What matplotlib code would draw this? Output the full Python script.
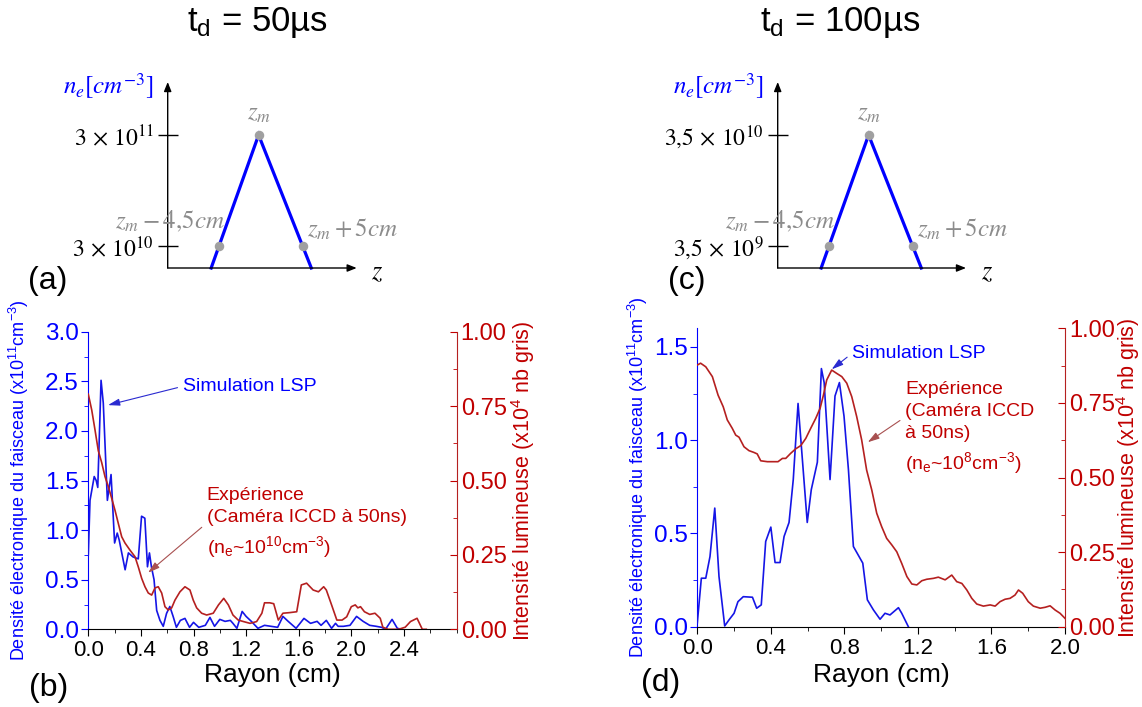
import numpy as np
import matplotlib
matplotlib.use('Agg')
import matplotlib.pyplot as plt
from matplotlib.ticker import MultipleLocator, FormatStrFormatter, NullLocator

plt.rcParams['font.family'] = ['Liberation Sans', 'DejaVu Sans']

W, H = 1142, 707

BLUE = '#0000ff'
LBLUE = '#1515e6'
RED = '#c00000'
LRED = '#b52020'
GREY = '#a0a0a0'

# ---- schematic profiles (log n_e vs z - z_m, in cm)
tri_z = [-4.5, 0.0, 5.0]
tri_ne_a = [3e10, 3e11, 3e10]
tri_ne_c = [3.5e9, 3.5e10, 3.5e9]
tick_lab_a = [r'$3\,\times\,10^{10}$', r'$3\,\times\,10^{11}$']
tick_lab_c = [r'$3{,}5\,\times\,10^{9}$', r'$3{,}5\,\times\,10^{10}$']

# ---- (b) t_d = 50 us : simulation LSP (x1e11 cm-3)
r_sim_b = [0.00, 0.013, 0.045, 0.06, 0.072, 0.097, 0.114, 0.145, 0.173, 0.20,
           0.22, 0.235, 0.28, 0.305, 0.34, 0.38, 0.405, 0.43, 0.45, 0.465,
           0.48, 0.50, 0.52, 0.545, 0.57, 0.595, 0.62, 0.645, 0.67, 0.70,
           0.735, 0.77, 0.80, 0.84, 0.89, 0.925, 0.96, 1.00, 1.04, 1.08,
           1.10, 1.13, 1.17, 1.20, 1.24, 1.29, 1.34, 1.39, 1.44, 1.48,
           1.52, 1.58, 1.64, 1.69, 1.74, 1.77, 1.81, 1.85, 1.88, 1.90,
           1.94, 1.99, 2.04, 2.09, 2.14, 2.19, 2.23, 2.26, 2.31, 2.35, 2.38]
n_sim_b = [0.75, 1.30, 1.54, 1.50, 1.43, 2.51, 2.28, 1.30, 1.56, 0.87,
           0.97, 0.90, 0.60, 0.77, 0.73, 0.71, 1.14, 1.12, 0.63, 0.77,
           0.63, 0.50, 0.19, 0.09, 0.03, 0.16, 0.23, 0.13, 0.02, 0.09,
           0.11, 0.02, 0.07, 0.02, 0.04, 0.12, 0.03, 0.10, 0.08, 0.09,
           0.06, 0.01, 0.18, 0.13, 0.08, 0.01, 0.04, 0.03, 0.02, 0.13,
           0.08, 0.01, 0.11, 0.06, 0.08, 0.04, 0.09, 0.01, 0.06, 0.03,
           0.03, 0.04, 0.13, 0.08, 0.04, 0.03, 0.02, 0.00, 0.10, 0.01, 0.00]
# ---- (b) experience, camera ICCD (x1e4 nb gris)
r_exp_b = [0.0, 0.026, 0.051, 0.076, 0.102, 0.127, 0.152, 0.178, 0.203, 0.228,
           0.254, 0.279, 0.317, 0.355, 0.38, 0.406, 0.431, 0.456, 0.482, 0.507,
           0.532, 0.558, 0.583, 0.608, 0.634, 0.659, 0.697, 0.735, 0.773, 0.798,
           0.824, 0.862, 0.90, 0.95, 0.99, 1.03, 1.065, 1.10, 1.14, 1.18,
           1.23, 1.28, 1.32, 1.34, 1.38, 1.41, 1.445, 1.48, 1.53, 1.585,
           1.62, 1.66, 1.71, 1.75, 1.79, 1.81, 1.85, 1.89, 1.93, 1.965,
           2.0, 2.03, 2.05, 2.07, 2.10, 2.14, 2.18, 2.22, 2.24, 2.28,
           2.36, 2.41, 2.45, 2.50, 2.54, 2.57]
i_exp_b = [0.79, 0.737, 0.67, 0.60, 0.56, 0.513, 0.48, 0.44, 0.40, 0.356,
           0.311, 0.29, 0.266, 0.244, 0.21, 0.171, 0.143, 0.122, 0.115, 0.139,
           0.143, 0.122, 0.076, 0.065, 0.072, 0.098, 0.126, 0.143, 0.132, 0.098,
           0.072, 0.054, 0.048, 0.054, 0.082, 0.104, 0.082, 0.048, 0.031, 0.026,
           0.020, 0.026, 0.054, 0.089, 0.089, 0.086, 0.031, 0.054, 0.056, 0.059,
           0.149, 0.155, 0.132, 0.126, 0.143, 0.132, 0.082, 0.031, 0.031, 0.042,
           0.076, 0.082, 0.072, 0.076, 0.059, 0.050, 0.054, 0.037, 0.007, 0.0,
           0.0, 0.007, 0.026, 0.037, 0.0, 0.0]

# ---- (d) t_d = 100 us : simulation LSP
r_sim_d = [0.0, 0.022, 0.046, 0.069, 0.095, 0.118, 0.149, 0.172, 0.20, 0.221,
           0.25, 0.30, 0.323, 0.348, 0.372, 0.40, 0.423, 0.45, 0.472, 0.499,
           0.522, 0.548, 0.598, 0.62, 0.653, 0.675, 0.69, 0.722, 0.749, 0.773,
           0.798, 0.822, 0.849, 0.90, 0.925, 0.958, 0.994, 1.021, 1.048, 1.094,
           1.112, 1.148]
n_sim_d = [0.02, 0.26, 0.26, 0.376, 0.636, 0.269, 0.004, 0.036, 0.072, 0.134,
           0.161, 0.158, 0.099, 0.117, 0.457, 0.534, 0.344, 0.344, 0.484, 0.559,
           0.789, 1.197, 0.559, 0.735, 0.882, 1.384, 1.309, 0.789, 1.237, 1.309,
           1.129, 0.843, 0.430, 0.341, 0.144, 0.090, 0.040, 0.072, 0.063, 0.102,
           0.072, 0.0]
# ---- (d) experience
r_exp_d = [0.0, 0.018, 0.046, 0.082, 0.113, 0.141, 0.163, 0.19, 0.209, 0.227,
           0.254, 0.281, 0.308, 0.326, 0.345, 0.381, 0.417, 0.439, 0.463, 0.481,
           0.508, 0.535, 0.563, 0.59, 0.617, 0.644, 0.668, 0.686, 0.704, 0.731,
           0.758, 0.786, 0.813, 0.84, 0.867, 0.894, 0.921, 0.949, 0.976, 1.003,
           1.030, 1.058, 1.085, 1.112, 1.140, 1.167, 1.194, 1.221, 1.248, 1.284,
           1.311, 1.348, 1.384, 1.411, 1.439, 1.466, 1.493, 1.52, 1.556, 1.593,
           1.62, 1.647, 1.674, 1.701, 1.728, 1.747, 1.77, 1.80, 1.828, 1.865,
           1.892, 1.919, 1.946, 1.973, 2.0]
i_exp_d = [0.877, 0.883, 0.871, 0.838, 0.776, 0.737, 0.693, 0.665, 0.642, 0.635,
           0.603, 0.590, 0.584, 0.579, 0.556, 0.553, 0.553, 0.553, 0.564, 0.564,
           0.581, 0.596, 0.607, 0.631, 0.665, 0.698, 0.732, 0.776, 0.827, 0.860,
           0.849, 0.838, 0.816, 0.771, 0.704, 0.626, 0.525, 0.458, 0.380, 0.335,
           0.296, 0.274, 0.251, 0.212, 0.168, 0.143, 0.140, 0.154, 0.159, 0.162,
           0.166, 0.157, 0.173, 0.151, 0.145, 0.123, 0.095, 0.076, 0.069, 0.073,
           0.069, 0.084, 0.092, 0.095, 0.106, 0.123, 0.112, 0.084, 0.069, 0.062,
           0.065, 0.070, 0.056, 0.045, 0.028]


def box(l, t, r, b):
    # pixel box -> figure fraction
    return [l / W, 1 - b / H, (r - l) / W, (b - t) / H]


fig = plt.figure(figsize=(W / 100, H / 100), dpi=100)


def schema(l, r, ne, labels):
    ax = fig.add_axes(box(l, 82, r, 268))
    ax.set_yscale('log')
    lo, hi = ne[0], ne[1]
    dec = 111.0  # px per decade
    ybot = lo * 10 ** (-22 / dec)
    ytop = lo * 10 ** (164 / dec)
    ax.set_ylim(ybot, ytop)
    pxcm = 8.8
    x0 = -(10.33)
    ax.set_xlim(x0, x0 + (r - l) / pxcm)
    # extend the triangle sides down to the z axis
    lg = np.log10
    sl = (lg(hi) - lg(lo)) / (tri_z[1] - tri_z[0])
    sr = (lg(hi) - lg(ne[2])) / (tri_z[2] - tri_z[1])
    zl = tri_z[0] - (lg(lo) - lg(ybot)) / sl
    zr = tri_z[2] + (lg(ne[2]) - lg(ybot)) / sr
    ax.plot([zl, tri_z[1], zr], [ybot, hi, ybot], color=BLUE, lw=2.3,
            solid_joinstyle='miter', clip_on=False, zorder=2)
    ax.scatter(tri_z, ne, s=34, color=GREY, zorder=3, clip_on=False)
    for s in ax.spines.values():
        s.set_visible(False)
    ax.set_xticks([])
    ax.set_yticks([lo, hi])
    ax.yaxis.set_minor_locator(NullLocator())
    ax.set_yticklabels(labels, math_fontfamily='stix', fontsize=17)
    ax.tick_params(axis='y', direction='inout', length=14, width=1, pad=3)
    ax.set_facecolor('none')
    ap = dict(arrowstyle='-|>,head_length=0.55,head_width=0.22', color='black',
              lw=1.0, shrinkA=0, shrinkB=0)
    ax.annotate('', xy=(0, 1), xytext=(0, 0), xycoords='axes fraction', arrowprops=ap)
    ax.annotate('', xy=(1, 0), xytext=(0, 0), xycoords='axes fraction', arrowprops=ap)
    kw = dict(color='#8c8c8c', fontsize=18, math_fontfamily='stix',
              textcoords='offset points')
    ax.annotate(r'$z_m$', xy=(tri_z[1], hi), xytext=(0, 7), ha='center', va='bottom', **kw)
    ax.annotate(r'$z_m - 4{,}5cm$', xy=(tri_z[0], lo), xytext=(4, 18), ha='right',
                va='center', **kw)
    ax.annotate(r'$z_m + 5cm$', xy=(tri_z[2], ne[2]), xytext=(3, 12), ha='left',
                va='center', **kw)
    ax.annotate(r'$z$', xy=(1.0, 0.0), xycoords='axes fraction', xytext=(15, -3),
                textcoords='offset points', fontsize=19, math_fontfamily='stix',
                ha='center', va='center')
    ax.annotate(r'$n_e[cm^{-3}]$', xy=(0.0, 1.0), xycoords='axes fraction',
                xytext=(-10, -3), textcoords='offset points', fontsize=18,
                math_fontfamily='stix', color=BLUE, ha='right', va='center')
    return ax


def panel(l, t, r, b, rs, ns, re, ie, xmax, xticks, ylmax, ylticks, lab_l, lab_r):
    ax = fig.add_axes(box(l, t, r, b))
    ax2 = ax.twinx()
    ax.plot(rs, ns, color=LBLUE, lw=1.2, zorder=3)
    ax2.plot(re, ie, color=LRED, lw=1.2)
    ax.set_xlim(0, xmax)
    ax.set_ylim(0, ylmax)
    ax2.set_ylim(0, 1.0)
    ax.set_xticks(xticks)
    ax.xaxis.set_minor_locator(MultipleLocator(0.2))
    ax.xaxis.set_major_formatter(FormatStrFormatter('%.1f'))
    ax.set_yticks(ylticks)
    ax.yaxis.set_minor_locator(MultipleLocator(0.25))
    ax.yaxis.set_major_formatter(FormatStrFormatter('%.1f'))
    ax2.set_yticks([0, 0.25, 0.5, 0.75, 1.0])
    ax2.yaxis.set_minor_locator(MultipleLocator(0.125))
    ax2.yaxis.set_major_formatter(FormatStrFormatter('%.2f'))
    for a in (ax, ax2):
        a.spines['top'].set_visible(False)
    ax.spines['right'].set_visible(False)
    ax2.spines['left'].set_visible(False)
    ax2.spines['bottom'].set_visible(False)
    ax.spines['left'].set_color(BLUE)
    ax2.spines['right'].set_color(LRED)
    ax.tick_params(axis='x', which='both', direction='out', labelsize=16, pad=3)
    ax.tick_params(axis='x', which='major', length=5)
    ax.tick_params(axis='x', which='minor', length=3)
    ax.tick_params(axis='y', which='both', direction='out', colors=BLUE,
                   labelsize=17.5, pad=2)
    ax.tick_params(axis='y', which='major', length=5)
    ax.tick_params(axis='y', which='minor', length=3)
    ax2.tick_params(axis='y', which='both', direction='in', colors=RED,
                    labelsize=17, pad=3)
    ax2.tick_params(axis='y', which='major', length=5)
    ax2.tick_params(axis='y', which='minor', length=3)
    ax.set_xlabel('Rayon (cm)', fontsize=19)
    ax.xaxis.set_label_coords(0.5, (b - 663) / (b - t))
    ax.set_ylabel(r'Densité électronique du faisceau (x10$\mathregular{^{11}}$cm$\mathregular{^{-3}}$)',
                  color=BLUE, fontsize=13)
    ax.yaxis.set_label_coords((lab_l - l) / (r - l), 0.5)
    ax2.set_ylabel(r'Intensité lumineuse (x10$\mathregular{^{4}}$ nb gris)',
                   color=RED, fontsize=15.5)
    ax2.yaxis.set_label_coords((lab_r - l) / (r - l), 0.5)
    return ax, ax2


# ---------------- schematics
schema(167.7, 356.7, tri_ne_a, tick_lab_a)
schema(777.7, 966.0, tri_ne_c, tick_lab_c)

fig.text(257 / W, 1 - 22 / H, r't$\mathregular{_d}$ = 50µs', fontsize=25,
         ha='center', va='center')
fig.text(840 / W, 1 - 22 / H, r't$\mathregular{_d}$ = 100µs', fontsize=25,
         ha='center', va='center')

ann_arrow_b = dict(arrowstyle='-|>,head_length=0.5,head_width=0.15',
                   color='#2a2ad0', lw=0.8, shrinkA=2, shrinkB=0, relpos=(0, 0.5))
ann_arrow_r = dict(arrowstyle='-|>,head_length=0.5,head_width=0.15',
                   color='#a85050', lw=0.8, shrinkA=2, shrinkB=0, relpos=(0, 0.5))

# ---------------- (b)
axb, axb2 = panel(88.3, 331.7, 456.5, 629.3, r_sim_b, n_sim_b, r_exp_b, i_exp_b,
                  2.8, np.arange(0, 2.41, 0.4), 3.0, np.arange(0, 3.01, 0.5), 31, 509)
axb.annotate('Simulation LSP', xy=(0.15, 2.26), xytext=(0.72, 2.45),
             color=BLUE, fontsize=14, ha='left', va='center', arrowprops=ann_arrow_b)
axb.annotate('Expérience\n(Caméra ICCD à 50ns)\n(n$\\mathregular{_e}$~10$\\mathregular{^{10}}$cm$\\mathregular{^{-3}}$)',
             xy=(0.454, 0.57), xytext=(0.90, 1.07),
             color=RED, fontsize=14, ha='left', va='center', linespacing=1.4,
             arrowprops=ann_arrow_r)

# ---------------- (d)
axd, axd2 = panel(697.3, 328.3, 1065.0, 626.7, r_sim_d, n_sim_d, r_exp_d, i_exp_d,
                  2.0, np.arange(0, 2.01, 0.4), 1.6, [0, 0.5, 1.0, 1.5], 650, 1114)
axd.annotate('Simulation LSP', xy=(0.731, 1.38), xytext=(0.842, 1.466),
             color=BLUE, fontsize=14, ha='left', va='center', arrowprops=ann_arrow_b)
ann_arrow_r2 = dict(ann_arrow_r, relpos=(0, 0.62))
axd.annotate('Expérience\n(Caméra ICCD\nà 50ns)\n(n$\\mathregular{_e}$~10$\\mathregular{^{8}}$cm$\\mathregular{^{-3}}$)',
             xy=(0.927, 0.989), xytext=(1.13, 1.063),
             color=RED, fontsize=14, ha='left', va='center', linespacing=1.4,
             arrowprops=ann_arrow_r2)

# ---------------- panel letters
for lab, x, y in [('(a)', 48, 281), ('(b)', 49, 688), ('(c)', 687, 281), ('(d)', 661, 683)]:
    fig.text(x / W, 1 - y / H, lab, fontsize=23, ha='center', va='center')

fig.savefig('out.png', dpi=100)
